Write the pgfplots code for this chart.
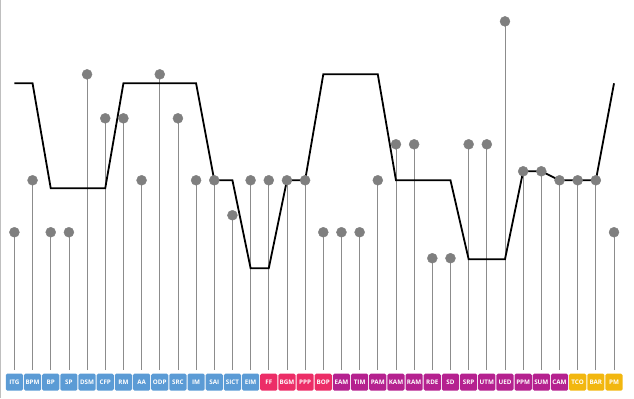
\documentclass[border=0pt]{standalone}
\usepackage{pgfplots}
\pgfplotsset{compat=1.18}
\usepackage{fontspec}
\setmainfont{Open Sans}
\definecolor{cblue}{HTML}{5B9BD5}
\definecolor{cred}{HTML}{EC2D67}
\definecolor{cpurp}{HTML}{B5218F}
\definecolor{cyell}{HTML}{F2B70F}
\definecolor{dotgray}{HTML}{7F7F7F}
\definecolor{stemgray}{HTML}{8C8C8C}
\tikzset{lbl/.style={rounded corners=1.5bp, minimum width=17.2bp, minimum height=17bp, inner sep=0pt, text=white, font=\fontsize{6.3}{6.5}\selectfont\bfseries}}
\begin{document}
\begin{tikzpicture}
\begin{axis}[
  width=634bp, height=398bp, scale only axis,
  xmin=0.23, xmax=35.1, ymin=-2.8, ymax=37.0,
  axis x line=none, axis y line*=left,
  ytick=\empty, xtick=\empty,
  y axis line style={-, draw=black!25, line width=0.8bp},
  clip=false,
]
% stems
\addplot[ycomb, draw=stemgray, line width=0.7bp, no marks] coordinates {
(1,13.8)(2,19.0)(3,13.8)(4,13.8)(5,29.6)(6,25.2)(7,25.2)(8,19.0)(9,29.6)(10,25.2)
(11,19.0)(12,19.0)(13,15.5)(14,19.0)(15,19.0)(16,19.0)(17,19.0)(18,13.8)(19,13.8)(20,13.8)
(21,19.0)(22,22.6)(23,22.6)(24,11.2)(25,11.2)(26,22.6)(27,22.6)(28,34.9)(29,19.9)(30,19.9)
(31,19.0)(32,19.0)(33,19.0)(34,13.8)};
% trend line
\addplot[black, line width=1.8bp, no marks] coordinates {
(1,28.7)(2,28.7)(3,18.2)(4,18.2)(5,18.2)(6,18.2)(7,28.7)(8,28.7)(9,28.7)(10,28.7)
(11,28.7)(12,19.0)(13,19.0)(14,10.2)(15,10.2)(16,19.0)(17,19.0)(18,29.6)(19,29.6)(20,29.6)
(21,29.6)(22,19.0)(23,19.0)(24,19.0)(25,19.0)(26,11.1)(27,11.1)(28,11.1)(29,19.9)(30,19.9)
(31,19.0)(32,19.0)(33,19.0)(34,28.7)};
% dots
\addplot[only marks, color=dotgray, mark=*, mark size=5bp, mark options={fill=dotgray, draw=dotgray}] coordinates {
(1,13.8)(2,19.0)(3,13.8)(4,13.8)(5,29.6)(6,25.2)(7,25.2)(8,19.0)(9,29.6)(10,25.2)
(11,19.0)(12,19.0)(13,15.5)(14,19.0)(15,19.0)(16,19.0)(17,19.0)(18,13.8)(19,13.8)(20,13.8)
(21,19.0)(22,22.6)(23,22.6)(24,11.2)(25,11.2)(26,22.6)(27,22.6)(28,34.9)(29,19.9)(30,19.9)
(31,19.0)(32,19.0)(33,19.0)(34,13.8)};
% labels
\node[lbl, fill=cblue] at (axis cs:1,-1.2) {ITG};
\node[lbl, fill=cblue] at (axis cs:2,-1.2) {BPM};
\node[lbl, fill=cblue] at (axis cs:3,-1.2) {BP};
\node[lbl, fill=cblue] at (axis cs:4,-1.2) {SP};
\node[lbl, fill=cblue] at (axis cs:5,-1.2) {DSM};
\node[lbl, fill=cblue] at (axis cs:6,-1.2) {CFP};
\node[lbl, fill=cblue] at (axis cs:7,-1.2) {RM};
\node[lbl, fill=cblue] at (axis cs:8,-1.2) {AA};
\node[lbl, fill=cblue] at (axis cs:9,-1.2) {ODP};
\node[lbl, fill=cblue] at (axis cs:10,-1.2) {SRC};
\node[lbl, fill=cblue] at (axis cs:11,-1.2) {IM};
\node[lbl, fill=cblue] at (axis cs:12,-1.2) {SAI};
\node[lbl, fill=cblue] at (axis cs:13,-1.2) {SICT};
\node[lbl, fill=cblue] at (axis cs:14,-1.2) {EIM};
\node[lbl, fill=cred] at (axis cs:15,-1.2) {FF};
\node[lbl, fill=cred] at (axis cs:16,-1.2) {BGM};
\node[lbl, fill=cred] at (axis cs:17,-1.2) {PPP};
\node[lbl, fill=cred] at (axis cs:18,-1.2) {BOP};
\node[lbl, fill=cpurp] at (axis cs:19,-1.2) {EAM};
\node[lbl, fill=cpurp] at (axis cs:20,-1.2) {TIM};
\node[lbl, fill=cpurp] at (axis cs:21,-1.2) {PAM};
\node[lbl, fill=cpurp] at (axis cs:22,-1.2) {KAM};
\node[lbl, fill=cpurp] at (axis cs:23,-1.2) {RAM};
\node[lbl, fill=cpurp] at (axis cs:24,-1.2) {RDE};
\node[lbl, fill=cpurp] at (axis cs:25,-1.2) {SD};
\node[lbl, fill=cpurp] at (axis cs:26,-1.2) {SRP};
\node[lbl, fill=cpurp] at (axis cs:27,-1.2) {UTM};
\node[lbl, fill=cpurp] at (axis cs:28,-1.2) {UED};
\node[lbl, fill=cpurp] at (axis cs:29,-1.2) {PPM};
\node[lbl, fill=cpurp] at (axis cs:30,-1.2) {SUM};
\node[lbl, fill=cpurp] at (axis cs:31,-1.2) {CAM};
\node[lbl, fill=cyell] at (axis cs:32,-1.2) {TCO};
\node[lbl, fill=cyell] at (axis cs:33,-1.2) {BAR};
\node[lbl, fill=cyell] at (axis cs:34,-1.2) {PM};
\end{axis}
\path (current axis.south west) rectangle (current axis.north east);
\end{tikzpicture}
\end{document}
